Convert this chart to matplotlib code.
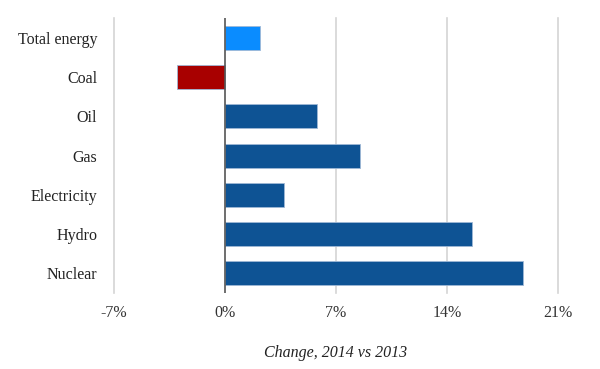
import matplotlib
matplotlib.use("Agg")
import matplotlib.pyplot as plt
from matplotlib.ticker import FuncFormatter

categories = ["Total energy", "Coal", "Oil", "Gas", "Electricity", "Hydro", "Nuclear"]
values = [2.2, -3.0, 5.8, 8.5, 3.7, 15.6, 18.8]
colors = ["#0A8CFF", "#A80000", "#0E5394", "#0E5394", "#0E5394", "#0E5394", "#0E5394"]
xticks = [-7, 0, 7, 14, 21]

plt.rcParams['font.family'] = ['Liberation Serif', 'DejaVu Serif']

fig = plt.figure(figsize=(6, 3.69), dpi=100)
ax = fig.add_axes([0.19, 0.206, 0.74, 0.745])

y = list(range(len(categories)))
ax.barh(y, values, height=0.61, color=colors, edgecolor="#9fb8d6", linewidth=0.6, zorder=3)
ax.set_yticks(y)
ax.set_yticklabels(categories, fontsize=11.5, color="#222222")
ax.set_ylim(len(categories) - 0.5, -0.5)
ax.set_xlim(-7, 21)
ax.set_xticks(xticks)
ax.xaxis.set_major_formatter(FuncFormatter(lambda v, p: f"{int(v)}%"))
ax.tick_params(axis='x', labelsize=11.5, colors="#333333", length=0, pad=9)
ax.tick_params(axis='y', length=0, pad=12)
for t in xticks:
    if t != 0:
        ax.axvline(t, color="#d4d4d4", linewidth=1.2, zorder=0, clip_on=False)
ax.axvline(0, color="#555555", linewidth=1.2, zorder=4)
for s in ax.spines.values():
    s.set_visible(False)
ax.set_xlabel("Change, 2014 vs 2013", fontsize=11.5, style="italic", color="#222222", labelpad=17)

fig.savefig("out.png", dpi=100, facecolor="white")
